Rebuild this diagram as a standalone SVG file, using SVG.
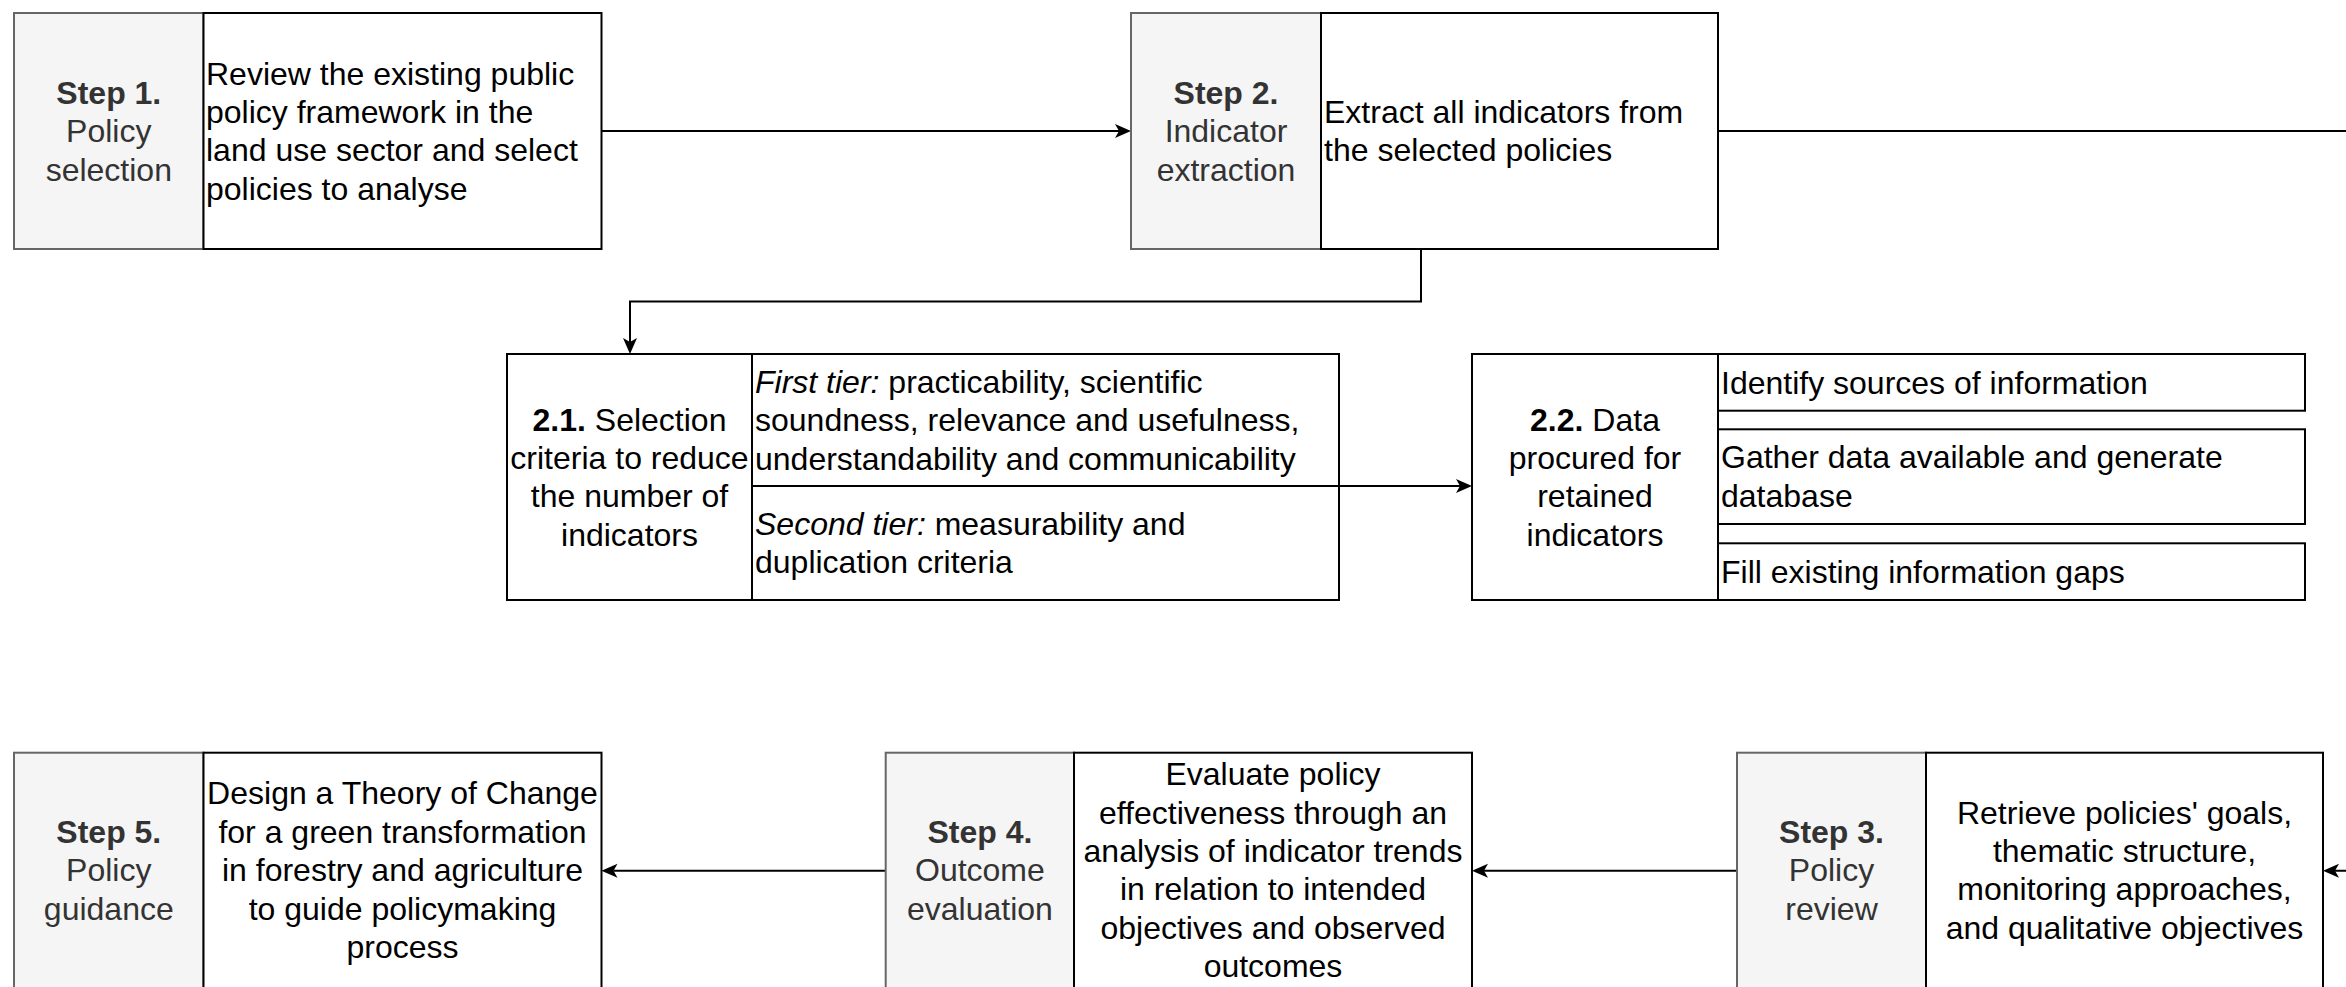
<svg xmlns="http://www.w3.org/2000/svg" width="2346" height="987" viewBox="0 0 2346 987">
  <defs>
    <style>
      .bg { fill: #ffffff; }
      .tag { fill: #f5f5f5; stroke: #666666; stroke-width: 2; }
      .box { fill: #ffffff; stroke: #000000; stroke-width: 2; }
      .rule { fill: none; stroke: #000000; stroke-width: 2; }
      .edge { fill: none; stroke: #000000; stroke-width: 2; marker-end: url(#arrow); }
      text { font-family: "Liberation Sans", Arial, Helvetica, sans-serif; font-size: 32px; }
      .tagtxt { fill: #333333; text-anchor: middle; }
      .txt { fill: #000000; }
      .mid { text-anchor: middle; }
      .b { font-weight: bold; }
      .i { font-style: italic; }
    </style>
    <marker id="arrow" markerUnits="userSpaceOnUse" viewBox="0 0 16 16" markerWidth="16" markerHeight="16" refX="4" refY="8" orient="auto">
      <path d="M16,8 L0,1 L4,8 L0,15 Z" fill="#000000"/>
    </marker>
  </defs>

  <rect class="bg" x="0" y="0" width="2346" height="987"/>

  <!-- connectors -->
  <g id="connectors">
    <path class="edge" d="M601.5,131 H1119"/>
    <path class="edge" d="M1421,249 V301.5 H630 V342"/>
    <path class="edge" d="M1339,486 H1460"/>
    <path class="edge" d="M1718,131 H2400 V870.7 H2335"/>
    <path class="edge" d="M1737,870.7 H1484"/>
    <path class="edge" d="M885.7,870.7 H613.5"/>
  </g>

  <!-- Step 1 -->
  <g id="step1">
    <rect class="tag" x="14" y="13" width="189.5" height="236"/>
    <rect class="box" x="203.5" y="13" width="398" height="236"/>
    <text class="tagtxt" x="108.8" y="103.7"><tspan class="b">Step 1.</tspan></text>
    <text class="tagtxt" x="108.8" y="142.1">Policy</text>
    <text class="tagtxt" x="108.8" y="180.5">selection</text>
    <text class="txt" x="206" y="84.5">Review the existing public</text>
    <text class="txt" x="206" y="122.9">policy framework in the</text>
    <text class="txt" x="206" y="161.3">land use sector and select</text>
    <text class="txt" x="206" y="199.7">policies to analyse</text>
  </g>

  <!-- Step 2 -->
  <g id="step2">
    <rect class="tag" x="1131" y="13" width="190" height="236"/>
    <rect class="box" x="1321" y="13" width="397" height="236"/>
    <text class="tagtxt" x="1226" y="103.7"><tspan class="b">Step 2.</tspan></text>
    <text class="tagtxt" x="1226" y="142.1">Indicator</text>
    <text class="tagtxt" x="1226" y="180.5">extraction</text>
    <text class="txt" x="1324" y="122.9">Extract all indicators from</text>
    <text class="txt" x="1324" y="161.3">the selected policies</text>
  </g>

  <!-- 2.1 Selection criteria -->
  <g id="step2-1">
    <rect class="box" x="507" y="354" width="832" height="246"/>
    <path class="rule" d="M752,354 V600 M752,486 H1339"/>
    <text class="txt mid" x="629.5" y="430.5"><tspan class="b">2.1.</tspan> Selection</text>
    <text class="txt mid" x="629.5" y="468.9">criteria to reduce</text>
    <text class="txt mid" x="629.5" y="507.3">the number of</text>
    <text class="txt mid" x="629.5" y="545.7">indicators</text>
    <text class="txt" x="755" y="392.7"><tspan class="i">First tier:</tspan> practicability, scientific</text>
    <text class="txt" x="755" y="431.1">soundness, relevance and usefulness,</text>
    <text class="txt" x="755" y="469.5">understandability and communicability</text>
    <text class="txt" x="755" y="534.9"><tspan class="i">Second tier:</tspan> measurability and</text>
    <text class="txt" x="755" y="573.3">duplication criteria</text>
  </g>

  <!-- 2.2 Data procurement -->
  <g id="step2-2">
    <rect class="box" x="1472" y="354" width="246" height="246"/>
    <text class="txt mid" x="1595" y="430.5"><tspan class="b">2.2.</tspan> Data</text>
    <text class="txt mid" x="1595" y="468.9">procured for</text>
    <text class="txt mid" x="1595" y="507.3">retained</text>
    <text class="txt mid" x="1595" y="545.7">indicators</text>
  </g>
  <g id="step2-2-sources">
    <rect class="box" x="1718" y="354" width="587" height="56.7"/>
    <text class="txt" x="1721" y="393.5">Identify sources of information</text>
  </g>
  <g id="step2-2-gather">
    <rect class="box" x="1718" y="429.3" width="587" height="94.7"/>
    <text class="txt" x="1721" y="468.4">Gather data available and generate</text>
    <text class="txt" x="1721" y="506.8">database</text>
  </g>
  <g id="step2-2-gaps">
    <rect class="box" x="1718" y="543.3" width="587" height="56.7"/>
    <text class="txt" x="1721" y="582.7">Fill existing information gaps</text>
  </g>

  <!-- Step 3 -->
  <g id="step3">
    <rect class="tag" x="1737" y="752.7" width="189" height="236"/>
    <rect class="box" x="1926" y="752.7" width="397" height="236"/>
    <text class="tagtxt" x="1831.5" y="842.7"><tspan class="b">Step 3.</tspan></text>
    <text class="tagtxt" x="1831.5" y="881.1">Policy</text>
    <text class="tagtxt" x="1831.5" y="919.5">review</text>
    <text class="txt mid" x="2124.5" y="823.5">Retrieve policies' goals,</text>
    <text class="txt mid" x="2124.5" y="861.9">thematic structure,</text>
    <text class="txt mid" x="2124.5" y="900.3">monitoring approaches,</text>
    <text class="txt mid" x="2124.5" y="938.7">and qualitative objectives</text>
  </g>

  <!-- Step 4 -->
  <g id="step4">
    <rect class="tag" x="885.7" y="752.7" width="188.3" height="236"/>
    <rect class="box" x="1074" y="752.7" width="398" height="236"/>
    <text class="tagtxt" x="979.9" y="842.7"><tspan class="b">Step 4.</tspan></text>
    <text class="tagtxt" x="979.9" y="881.1">Outcome</text>
    <text class="tagtxt" x="979.9" y="919.5">evaluation</text>
    <text class="txt mid" x="1273" y="785.1">Evaluate policy</text>
    <text class="txt mid" x="1273" y="823.5">effectiveness through an</text>
    <text class="txt mid" x="1273" y="861.9">analysis of indicator trends</text>
    <text class="txt mid" x="1273" y="900.3">in relation to intended</text>
    <text class="txt mid" x="1273" y="938.7">objectives and observed</text>
    <text class="txt mid" x="1273" y="977.1">outcomes</text>
  </g>

  <!-- Step 5 -->
  <g id="step5">
    <rect class="tag" x="14" y="752.7" width="189.5" height="236"/>
    <rect class="box" x="203.5" y="752.7" width="398" height="236"/>
    <text class="tagtxt" x="108.8" y="842.7"><tspan class="b">Step 5.</tspan></text>
    <text class="tagtxt" x="108.8" y="881.1">Policy</text>
    <text class="tagtxt" x="108.8" y="919.5">guidance</text>
    <text class="txt mid" x="402.5" y="804.3">Design a Theory of Change</text>
    <text class="txt mid" x="402.5" y="842.7">for a green transformation</text>
    <text class="txt mid" x="402.5" y="881.1">in forestry and agriculture</text>
    <text class="txt mid" x="402.5" y="919.5">to guide policymaking</text>
    <text class="txt mid" x="402.5" y="957.9">process</text>
  </g>
</svg>
